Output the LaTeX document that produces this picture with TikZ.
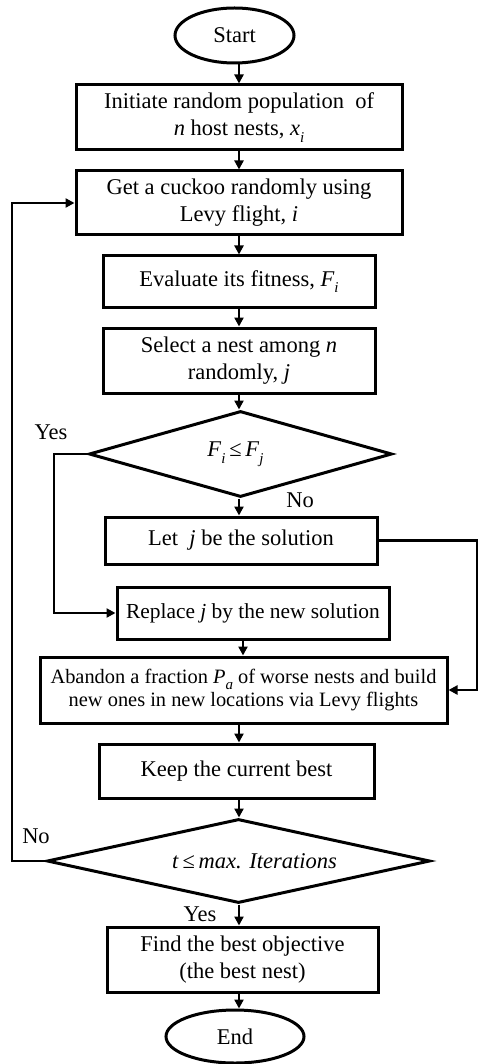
\documentclass[tikz,border=0pt]{standalone}
\usepackage{fontspec}
\setmainfont{Liberation Serif}
\usetikzlibrary{shapes.geometric,arrows.meta}
\newcommand\mysub[1]{\raisebox{-0.3em}{\fontsize{15}{15}\selectfont\itshape #1}}
\begin{document}
\begin{tikzpicture}[x=1pt,y=-1pt,
  font=\fontsize{22.5}{27}\selectfont,
  box/.style={draw, line width=3pt, rectangle, align=center, inner sep=0pt},
  term/.style={draw, line width=3pt, ellipse, inner sep=0pt},
  dec/.style={draw, line width=3pt, diamond, inner sep=0pt, align=center},
  arr/.style={line width=2.5pt, -{Triangle[length=9pt,width=9pt]}},
  lbl/.style={inner sep=0pt}]
\fill[white] (0,0) rectangle (479,1064);
\useasboundingbox (0,0) rectangle (479,1064);
\coordinate (col) at (239,0);
\coordinate (lx) at (12,0);
\coordinate (yx) at (54,0);
\coordinate (rx) at (477,0);

\node[term, minimum width=119pt, minimum height=55pt] (start) at (234.5,35.5) {Start};
\node[box, minimum width=326pt, minimum height=65pt] (b1) at (239,117.5) {Initiate random population \ of\\ \textit{n} host nests, \textit{x}\mysub{i}};
\node[box, minimum width=326pt, minimum height=64pt] (b2) at (239,203) {Get a cuckoo randomly using\\ Levy flight, \textit{i}};
\node[box, minimum width=272pt, minimum height=51pt] (b3) at (239,281.5) {Evaluate its fitness, \textit{F}\mysub{i}};
\node[box, minimum width=272pt, minimum height=65pt] (b4) at (239,360.5) {Select a nest among \textit{n}\\ randomly, \textit{j}};
\node[dec, shape aspect=3.5, minimum width=303pt, minimum height=86pt] (d1) at (240.5,454) {\hspace*{-10pt}\textit{F}\mysub{i}\,≤\,\textit{F}\mysub{j}};
\node[box, minimum width=272pt, minimum height=47pt] (b5) at (241,540.5) {Let \ \textit{j} be the solution};
\node[box, minimum width=272pt, minimum height=52pt, font=\fontsize{21.4}{25}\selectfont] (b6) at (253,613) {Replace \textit{j} by the new solution};
\node[box, minimum width=407pt, minimum height=66pt, font=\fontsize{20.4}{23.5}\selectfont] (b7) at (243.5,690) {Abandon a fraction \textit{P}\mysub{a} of worse nests and build\\ new ones in new locations via Levy flights};
\node[box, minimum width=275pt, minimum height=54pt] (b8) at (236.5,771) {Keep the current best};
\node[dec, shape aspect=4.56, minimum width=383pt, minimum height=84pt] (d2) at (238.5,861) {\hspace*{32pt}\textit{t}\,≤\,\textit{max. Iterations}};
\node[box, minimum width=271pt, minimum height=65pt] (b9) at (242.5,959.5) {Find the best objective\\ (the best nest)};
\node[term, minimum width=138pt, minimum height=53pt] (end) at (235,1036.5) {End};

\node[lbl] (yes1) at (51,432) {Yes};
\node[lbl] (no1) at (300,500) {No};
\node[lbl] (no2) at (36,836) {No};
\node[lbl] (yes2) at (200,914) {Yes};

\draw[arr] (start.south -| col) -- (b1.north -| col);
\draw[arr] (b1.south -| col) -- (b2.north -| col);
\draw[arr] (b2.south -| col) -- (b3.north -| col);
\draw[arr] (b3.south -| col) -- (b4.north -| col);
\draw[arr] (b4.south -| col) -- (d1.north -| col);
\draw[arr] (d1.south -| col) -- (b5.north -| col);
\draw[arr] ([xshift=4pt]b6.south -| col) -- ([xshift=4pt]b7.north -| col);
\draw[arr] (b7.south -| col) -- (b8.north -| col);
\draw[arr] (b8.south -| col) -- (d2.north -| col);
\draw[arr] (d2.south -| col) -- (b9.north -| col);
\draw[arr] (b9.south -| col) -- (end.north -| col);

\draw[arr] (d1.west) -- (d1.west -| yx) |- (b6.west);
\draw[arr] (b5.east) -- (b5.east -| rx) |- (b7.east);
\draw[arr] (d2.west) -- (d2.west -| lx) |- (b2.west);
\end{tikzpicture}
\end{document}
